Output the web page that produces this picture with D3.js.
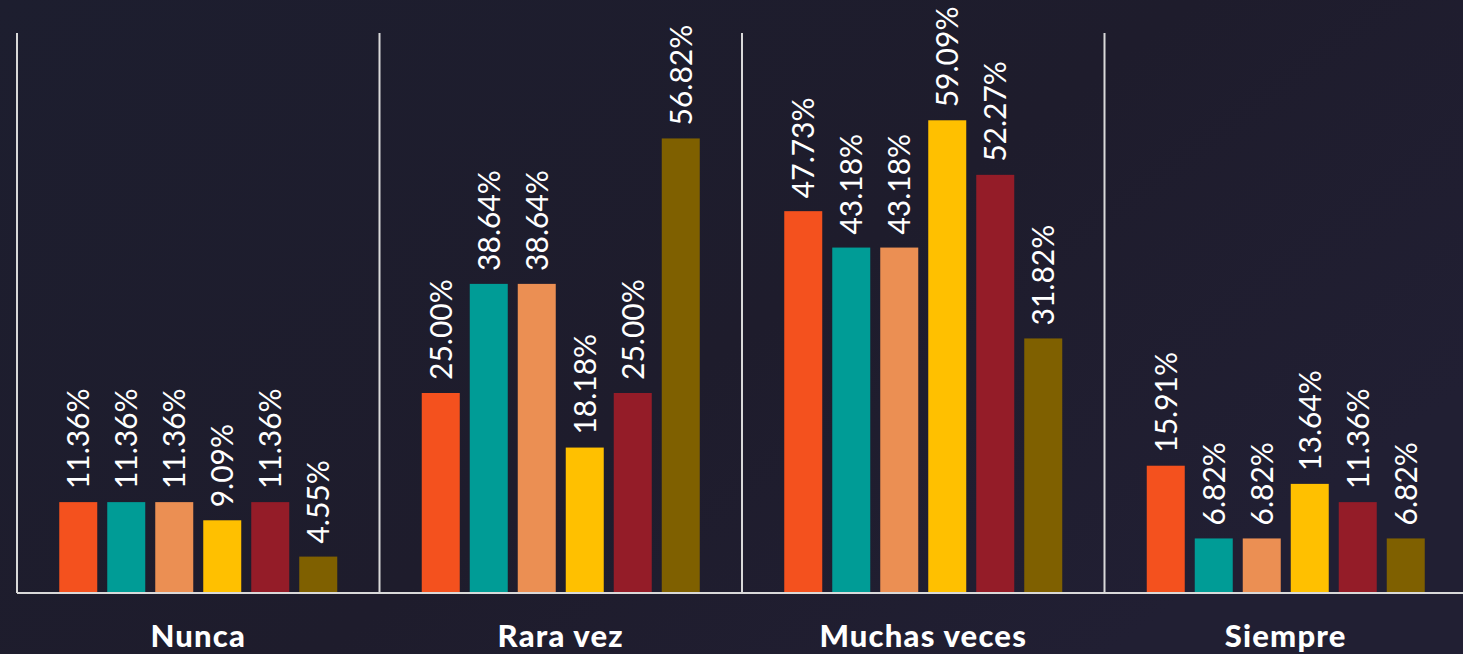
<!DOCTYPE html>
<html><head><meta charset="utf-8">
<script src="https://cdn.jsdelivr.net/npm/d3@7"></script>
<style>html,body{margin:0;padding:0;background:#1d1d2d;overflow:hidden}</style>
</head><body>
<svg id="chart" width="1463" height="654"></svg>
<script>
const categories = ["Nunca", "Rara vez", "Muchas veces", "Siempre"];
const seriesNames = ["S1", "S2", "S3", "S4", "S5", "S6"];
const colors = ["#F4511E", "#009C96", "#EB8F53", "#FFC000", "#941C28", "#7F6000"];
const s1 = [11.36, 25.00, 47.73, 15.91];
const s2 = [11.36, 38.64, 43.18, 6.82];
const s3 = [11.36, 38.64, 43.18, 6.82];
const s4 = [9.09, 18.18, 59.09, 13.64];
const s5 = [11.36, 25.00, 52.27, 11.36];
const s6 = [4.55, 56.82, 31.82, 6.82];
const seriesValues = [s1, s2, s3, s4, s5, s6];

const W = 1463, H = 654;
const svg = d3.select("#chart");
const defs = svg.append("defs");
const grad = defs.append("linearGradient").attr("id","bg").attr("x1","0").attr("y1","0").attr("x2","1").attr("y2","0.6");
grad.append("stop").attr("offset","0").attr("stop-color","#1d1e2f");
grad.append("stop").attr("offset","0.6").attr("stop-color","#1e1c2c");
grad.append("stop").attr("offset","1").attr("stop-color","#211f33");
svg.append("rect").attr("width",W).attr("height",H).attr("fill","url(#bg)");

const x0 = d3.scaleBand().domain(categories).range([17, 1467]);
const x1 = d3.scaleBand().domain(seriesNames).range([-144, 144]).paddingInner(10/48).paddingOuter(5/48);
const y = d3.scaleLinear().domain([0, 70]).range([593, 33]);

// dividers
svg.append("g").selectAll("line").data(categories).join("line")
  .attr("x1", d => x0(d)).attr("x2", d => x0(d))
  .attr("y1", y(70)).attr("y2", y(0))
  .attr("stroke", "#d9d9d9").attr("stroke-width", 2);

const groups = svg.append("g").selectAll("g").data(categories).join("g")
  .attr("transform", d => `translate(${x0(d) + x0.bandwidth()/2},0)`);

groups.each(function(cat, ci) {
  const g = d3.select(this);
  const data = seriesNames.map((s, si) => ({s, si, v: seriesValues[si][ci]}));
  g.selectAll("rect").data(data).join("rect")
    .attr("x", d => x1(d.s)).attr("width", x1.bandwidth())
    .attr("y", d => y(d.v)).attr("height", d => y(0) - y(d.v))
    .attr("fill", d => colors[d.si]);
  g.selectAll("text").data(data).join("text")
    .attr("transform", d => `translate(${x1(d.s) + x1.bandwidth()/2},${y(d.v) - 13}) rotate(-90)`)
    .attr("dy", "0.36em")
    .attr("fill", "#ffffff")
    .attr("font-family", "Lato, 'Open Sans', sans-serif")
    .attr("font-size", 30)
    .text(d => d.v.toFixed(2) + "%");
});

// baseline axis
svg.append("line").attr("x1", 17).attr("x2", W).attr("y1", y(0)).attr("y2", y(0))
  .attr("stroke", "#d9d9d9").attr("stroke-width", 2);

// category labels
svg.append("g").selectAll("text").data(categories).join("text")
  .attr("x", d => x0(d) + x0.bandwidth()/2).attr("y", 647)
  .attr("text-anchor", "middle")
  .attr("fill", "#ffffff")
  .attr("font-family", "Lato, 'Open Sans', sans-serif")
  .attr("font-weight", 900)
  .attr("font-size", 31)
  .attr("letter-spacing", 1.2)
  .text(d => d);
</script>
</body></html>
